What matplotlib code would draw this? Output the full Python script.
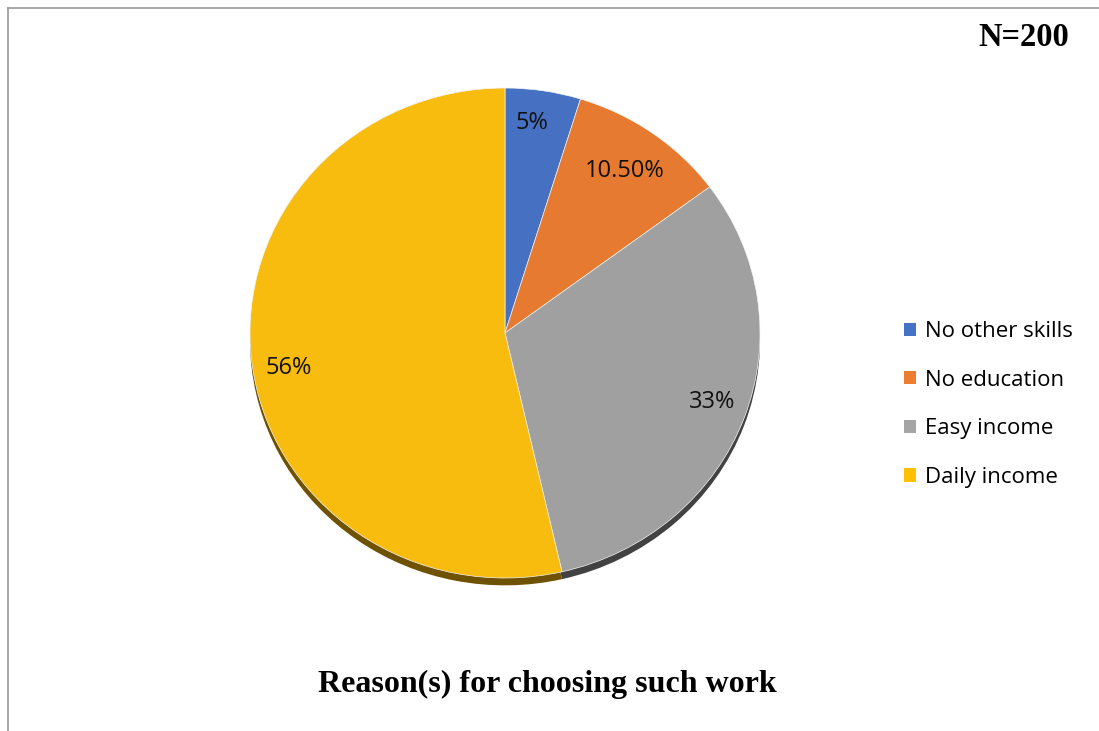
import matplotlib
matplotlib.use("Agg")
import matplotlib.pyplot as plt
from matplotlib.lines import Line2D
from matplotlib.patches import Patch
import numpy as np

categories = ["No other skills", "No education", "Easy income", "Daily income"]
values = [5, 10.5, 33, 56]
value_labels = ["5%", "10.50%", "33%", "56%"]
title = "Reason(s) for choosing such work"
note = "N=200"

colors = ["#4472C4", "#ED7D31", "#A5A5A5", "#FFC000"]
face_colors = ["#4670C2", "#E67A30", "#A0A0A0", "#F7BC0E"]
shadow_colors = ["#22385F", "#70390F", "#424242", "#6E5200"]

W, H = 1099, 731
fig = plt.figure(figsize=(W / 100, H / 100), dpi=100)

# pie axes in pixel coords
cx, cy, rx, ry = 505, 333, 255, 245
ax = fig.add_axes([(cx - rx) / W, 1 - (cy + ry) / H, 2 * rx / W, 2 * ry / H])

# shadow
ax.pie(values, colors=shadow_colors, startangle=90, counterclock=False,
       center=(0, -0.03), radius=1.0, wedgeprops=dict(linewidth=0))
wedges, _ = ax.pie(values, colors=face_colors, startangle=90, counterclock=False,
                   radius=1.0, wedgeprops=dict(linewidth=0.5, edgecolor="#F4F4F4"))
ax.set_aspect("auto")
ax.set_xlim(-1, 1)
ax.set_ylim(-1, 1)
ax.axis("off")

dists = [0.865, 0.81, 0.86, 0.86]
ang_shift = [1.5, 0, 1.0, 3.0]
for w, lab, d, s in zip(wedges, value_labels, dists, ang_shift):
    ang = np.deg2rad((w.theta1 + w.theta2) / 2 + s)
    ax.text(d * np.cos(ang), d * np.sin(ang), lab, ha="center", va="center",
            fontsize=17, family="Open Sans", color="#111111")

# legend
handles = [Patch(facecolor=c, edgecolor="none") for c in colors]
fig.legend(handles, categories, loc="center left",
           bbox_to_anchor=(884 / W, 1 - 404.5 / H), frameon=False,
           prop=dict(family="Open Sans", size=16), handlelength=0.54, handleheight=0.54,
           handletextpad=0.4, labelspacing=1.24)

fig.text(547 / W, 1 - 684 / H, title, ha="center", va="center",
         fontsize=23, fontweight="bold", family="Liberation Serif")
fig.text(1024 / W, 1 - 38 / H, note, ha="center", va="center",
         fontsize=23.5, fontweight="bold", family="Liberation Serif")

# border (left and top)
fig.add_artist(Line2D([7.5 / W, 7.5 / W], [0, 1 - 8 / H], transform=fig.transFigure,
                      color="#9A9A9A", linewidth=1.2))
fig.add_artist(Line2D([7.5 / W, 1], [1 - 8 / H, 1 - 8 / H], transform=fig.transFigure,
                      color="#9A9A9A", linewidth=1.2))

fig.savefig("out.png", dpi=100)
